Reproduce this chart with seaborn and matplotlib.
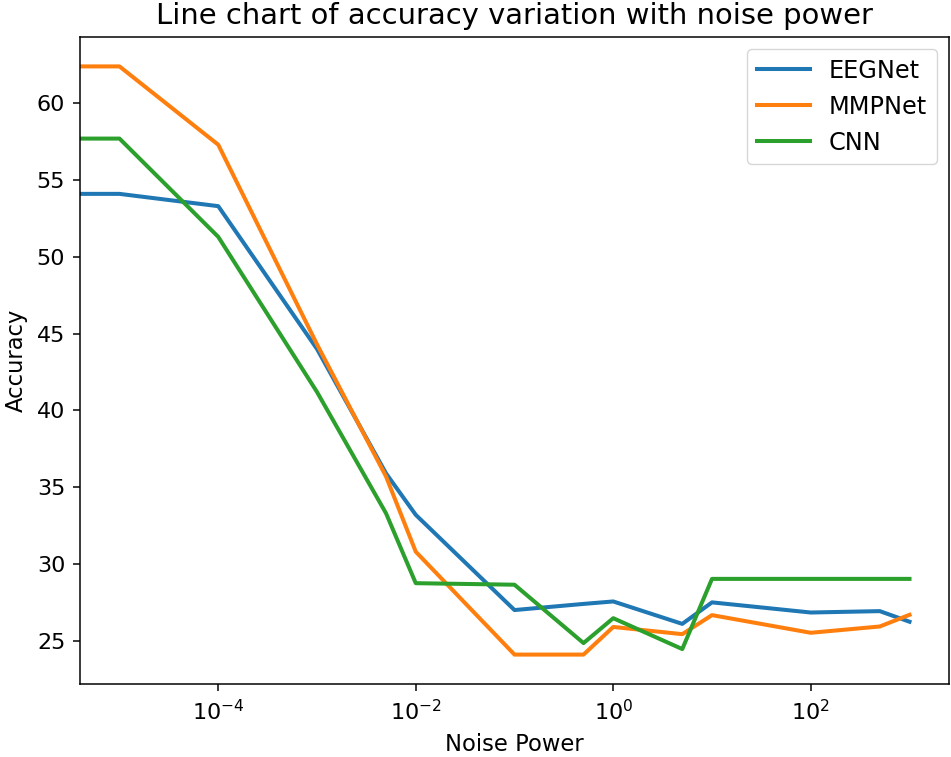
import numpy as np
import pandas as pd
import matplotlib
matplotlib.use("Agg")
import matplotlib.pyplot as plt
from matplotlib.ticker import NullLocator, FixedLocator
import seaborn as sns

noise_power = [0, 1e-5, 1e-4, 1e-3, 5e-3, 1e-2, 1e-1, 5e-1, 1, 5, 10, 100, 500, 1000]
eegnet = [54.1, 54.1, 53.3, 44.0, 35.9, 33.2, 27.0, 27.4, 27.56, 26.1, 27.5, 26.84, 26.93, 26.24]
mmpnet = [62.4, 62.4, 57.3, 44.3, 35.7, 30.8, 24.1, 24.1, 25.9, 25.43, 26.67, 25.52, 25.93, 26.69]
cnn = [57.7, 57.7, 51.3, 41.2, 33.3, 28.75, 28.65, 24.85, 26.47, 24.46, 29.03, 29.03, 29.03, 29.03]
models = ["EEGNet", "MMPNet", "CNN"]
colors = ["#1f77b4", "#ff7f0e", "#2ca02c"]
x_ticks = [1e-4, 1e-2, 1e0, 1e2]

rows = []
for name, vals in zip(models, [eegnet, mmpnet, cnn]):
    for x, y in zip(noise_power, vals):
        rows.append({"Noise Power": x, "Accuracy": y, "model": name})
df = pd.DataFrame(rows)

k = 1.6
fig = plt.figure(figsize=(9.51, 7.57), dpi=100)
ax = fig.add_axes([80 / 951, 1 - 684 / 757, 869 / 951, 647 / 757])

sns.lineplot(data=df, x="Noise Power", y="Accuracy", hue="model",
             hue_order=models, palette=colors, linewidth=2.9, ax=ax)
ax.set_xscale("log")
ax.xaxis.set_major_locator(FixedLocator(x_ticks))
ax.xaxis.set_minor_locator(NullLocator())

ax.set_title("Line chart of accuracy variation with noise power", fontsize=20.9, pad=6 * k)
ax.set_xlabel("Noise Power", fontsize=16.3, labelpad=4 * k)
ax.set_ylabel("Accuracy", fontsize=16.3, labelpad=4 * k)
ax.tick_params(labelsize=16, width=0.8 * k * 0.85, length=5.0, pad=3.5 * k)
for s in ax.spines.values():
    s.set_linewidth(0.8 * k * 0.85)

sns.move_legend(ax, "upper right", title=None, fontsize=17.3, frameon=True,
                handlelength=2.2, borderaxespad=0.5)

fig.savefig("out.png", dpi=100)
